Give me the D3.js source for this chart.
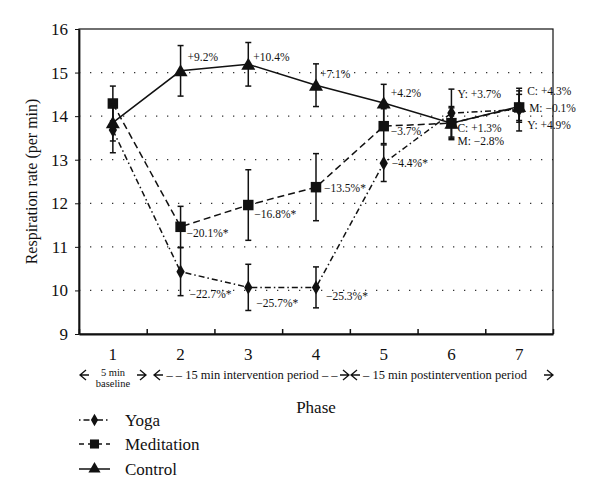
<!DOCTYPE html>
<html><head><meta charset="utf-8">
<script src="https://cdn.jsdelivr.net/npm/d3@7"></script>
<style>body{margin:0;background:#fff}svg{display:block}</style>
</head><body>
<svg id="c" width="600" height="500"></svg>
<script>
const phases = [1, 2, 3, 4, 5, 6, 7];
const yTicks = [9, 10, 11, 12, 13, 14, 15, 16];
const yoga = [13.68, 10.43, 10.07, 10.07, 12.92, 14.07, 14.15];
const yogaErr = [0.52, 0.55, 0.53, 0.47, 0.42, 0.55, 0.49];
const meditation = [14.29, 11.46, 11.96, 12.37, 13.77, 13.84, 14.2];
const meditationErr = [0.4, 0.47, 0.81, 0.77, 0.4, 0.38, 0.3];
const control = [13.85, 15.04, 15.19, 14.71, 14.3, 13.84, 14.22];
const controlErr = [0.42, 0.58, 0.5, 0.49, 0.43, 0.35, 0.36];
const controlLabels = ["", "+9.2%", "+10.4%", "+7.1%", "+4.2%", "", ""];
const meditationLabels = ["", "\u221220.1%*", "\u221216.8%*", "\u221213.5%*", "\u22123.7%", "", ""];
const yogaLabels = ["", "\u221222.7%*", "\u221225.7%*", "\u221225.3%*", "\u22124.4%*", "", ""];
const phase6Labels = ["Y: +3.7%", "C: +1.3%", "M: \u22122.8%"];
const phase7Labels = ["C: +4.3%", "M: \u22120.1%", "Y: +4.9%"];
const seriesNames = ["Yoga", "Meditation", "Control"];

const FONT = "'Liberation Serif', 'DejaVu Serif', serif";
const svg = d3.select("#c");
const x = d3.scaleLinear().domain([0.5, 7.5]).range([79, 553]);
const y = d3.scaleLinear().domain([9, 16]).range([334, 29]);

// grid
svg.append("g").selectAll("line").data(yTicks.filter(t => t > 9 && t < 16)).join("line")
  .attr("x1", x(0.5)).attr("x2", x(7.5)).attr("y1", d => y(d)).attr("y2", d => y(d))
  .attr("stroke", "#333").attr("stroke-width", 1.3).attr("stroke-dasharray", "1.3,9.7");

// frame
svg.append("rect").attr("x", x(0.5)).attr("y", y(16)).attr("width", x(7.5) - x(0.5)).attr("height", y(9) - y(16))
  .attr("fill", "none").attr("stroke", "#111").attr("stroke-width", 1.2);

// bottom axis with half ticks
const xa = svg.append("g").attr("transform", `translate(0,${y(9)})`)
  .call(d3.axisBottom(x).tickValues([0.5, 1.5, 2.5, 3.5, 4.5, 5.5, 6.5, 7.5]).tickSizeInner(-5).tickSizeOuter(0).tickFormat(""));
xa.select(".domain").attr("stroke", "#111").attr("stroke-width", 2);
xa.selectAll(".tick line").attr("stroke", "#111").attr("stroke-width", 1.5);
svg.append("g").selectAll("text").data(phases).join("text")
  .attr("x", d => x(d)).attr("y", 360).attr("text-anchor", "middle").attr("font-size", 17).text(d => d);

// left axis
const ya = svg.append("g").attr("transform", `translate(${x(0.5)},0)`)
  .call(d3.axisLeft(y).tickValues(yTicks).tickFormat(d3.format("d")).tickSizeInner(4).tickSizeOuter(0).tickPadding(7));
ya.select(".domain").attr("stroke", "#111").attr("stroke-width", 1.8);
ya.selectAll(".tick line").attr("stroke", "#111");
ya.selectAll(".tick text").attr("font-size", 17).attr("fill", "#111");

svg.append("text").attr("transform", `translate(37,${(y(9) + y(16)) / 2}) rotate(-90)`)
  .attr("text-anchor", "middle").attr("font-size", 16).text("Respiration rate (per min)");
svg.append("text").attr("x", 316).attr("y", 413).attr("text-anchor", "middle").attr("font-size", 17).text("Phase");

// period annotations
const ann = svg.append("g").attr("font-size", 12.5);
ann.append("text").attr("x", 113).attr("y", 376).attr("text-anchor", "middle").attr("font-size", 10.5).text("5 min");
ann.append("text").attr("x", 113).attr("y", 387).attr("text-anchor", "middle").attr("font-size", 10.5).text("baseline");
ann.append("text").attr("x", 252).attr("y", 379).attr("text-anchor", "middle").text("\u2013 \u2013  15 min intervention period  \u2013 \u2013");
ann.append("text").attr("x", 445).attr("y", 379).attr("text-anchor", "middle").text("\u2013  15 min postintervention period");
const arrowY = 375;
const arrows = [[80, -1], [146, 1], [154, -1], [349, 1], [351, -1], [553, 1]];
arrows.forEach(([tx, dir]) => {
  ann.append("path")
    .attr("d", `M${tx - dir * 6},${arrowY - 5}L${tx},${arrowY}L${tx - dir * 6},${arrowY + 5}M${tx},${arrowY}L${tx - dir * 9},${arrowY}`)
    .attr("fill", "none").attr("stroke", "#111").attr("stroke-width", 1.3);
});

// series
const series = [
  {name: "Yoga", v: yoga, e: yogaErr, dash: "6,3,1.5,3", sym: d3.symbolDiamond, size: 60},
  {name: "Meditation", v: meditation, e: meditationErr, dash: "7,4", sym: d3.symbolSquare, size: 110},
  {name: "Control", v: control, e: controlErr, dash: null, sym: d3.symbolTriangle, size: 85}
];
const line = d3.line().x((d, i) => x(phases[i])).y(d => y(d));
series.forEach(s => {
  const g = svg.append("g");
  g.append("path").attr("d", line(s.v)).attr("fill", "none").attr("stroke", "#111").attr("stroke-width", 1.5)
    .attr("stroke-dasharray", s.dash);
  const eb = g.selectAll("g.eb").data(s.v).join("g");
  eb.append("line").attr("x1", (d, i) => x(phases[i])).attr("x2", (d, i) => x(phases[i]))
    .attr("y1", (d, i) => y(d + s.e[i])).attr("y2", (d, i) => y(d - s.e[i])).attr("stroke", "#111").attr("stroke-width", 1.5);
  [1, -1].forEach(sg => {
    eb.append("line").attr("x1", (d, i) => x(phases[i]) - 3).attr("x2", (d, i) => x(phases[i]) + 3)
      .attr("y1", (d, i) => y(d + sg * s.e[i])).attr("y2", (d, i) => y(d + sg * s.e[i])).attr("stroke", "#111").attr("stroke-width", 1.5);
  });
  g.selectAll("path.m").data(s.v).join("path").attr("class", "m")
    .attr("transform", (d, i) => `translate(${x(phases[i])},${y(d) + (s.sym === d3.symbolTriangle ? 1.5 : 0)})`)
    .attr("d", d3.symbol().type(s.sym).size(s.size)).attr("fill", "#111");
});

// labels
const lab = svg.append("g").attr("font-size", 11.5);
const cOff = [null, [7, -10], [5, -3], [4, -7], [7, -6]];
const mOff = [null, [6, 10], [6, 13], [8, 5], [7, 9]];
const yOff = [null, [9, 26], [8, 20], [10, 13], [8, 4]];
[[control, controlLabels, cOff], [meditation, meditationLabels, mOff], [yoga, yogaLabels, yOff]].forEach(([v, L, off]) => {
  L.forEach((t, i) => {
    if (!t) return;
    lab.append("text").attr("x", x(phases[i]) + off[i][0]).attr("y", y(v[i]) + off[i][1]).text(t);
  });
});
const p6y = [98, 132, 145];
phase6Labels.forEach((t, i) => lab.append("text").attr("x", x(6) + 6).attr("y", p6y[i]).text(t));
const p7y = [95, 112, 129];
const p7x = [8, 10, 8];
phase7Labels.forEach((t, i) => lab.append("text").attr("x", x(7) + p7x[i]).attr("y", p7y[i]).text(t));

// legend
const leg = svg.append("g");
const legY = [420, 444, 469];
series.forEach((s, i) => {
  leg.append("line").attr("x1", 79).attr("x2", 110).attr("y1", legY[i]).attr("y2", legY[i])
    .attr("stroke", "#111").attr("stroke-width", 1.5).attr("stroke-dasharray", s.name === "Yoga" ? "1.5,3,6,3" : s.name === "Meditation" ? "5,4" : null);
  leg.append("path").attr("transform", `translate(94.5,${legY[i]})`)
    .attr("d", d3.symbol().type(s.sym).size(s.size * 0.75)).attr("fill", "#111");
  leg.append("text").attr("x", 125).attr("y", legY[i] + 5.5).attr("font-size", 17).text(seriesNames[i]);
});

svg.selectAll("text").style("font-family", FONT).style("fill", "#111");
</script>
</body></html>
